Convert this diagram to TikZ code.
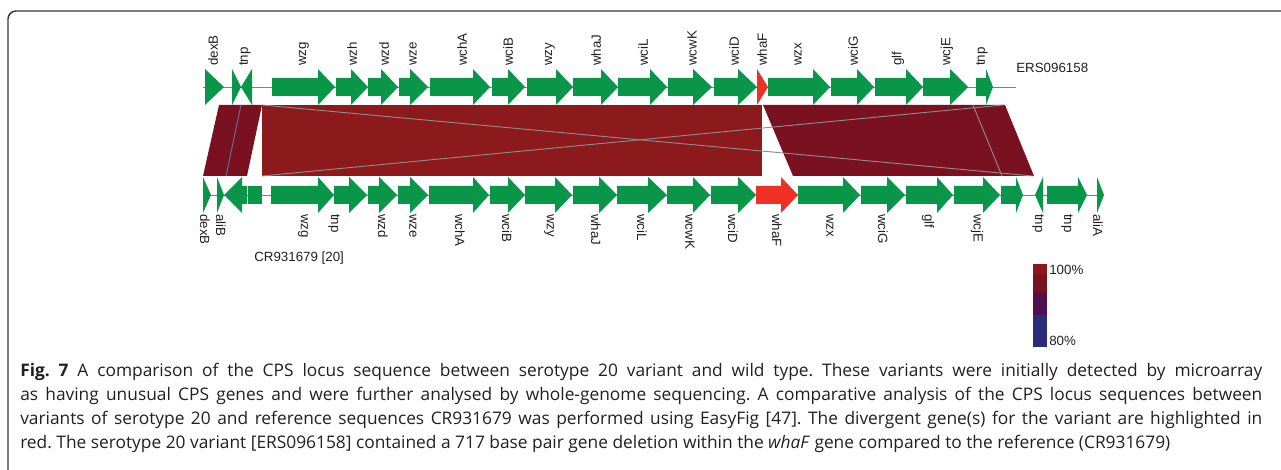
\documentclass[tikz,border=0pt]{standalone}
\usepackage{fontspec}
\setmainfont{Open Sans}
\newfontfamily\genefont{Liberation Sans}

\definecolor{genegreen}{HTML}{0A9648}
\definecolor{genered}{HTML}{EE3124}
\definecolor{hitred}{HTML}{8C191C}
\definecolor{hitdark}{HTML}{7A1120}
\definecolor{hitpurple}{HTML}{4F1050}
\definecolor{hitblue}{HTML}{2B2B7B}
\definecolor{inkgrey}{HTML}{231F20}

\begin{document}
\begin{tikzpicture}[x=0.75pt, y=-0.75pt,
                    lbl/.style = {font=\genefont\fontsize{10}{12}\selectfont, text=inkgrey, inner sep=0pt},
                    toplbl/.style = {lbl, rotate=90, anchor=west},
                    botlbl/.style = {lbl, rotate=-90, anchor=west}]
                    \useasboundingbox (0,0) rectangle (1281,470);
                    \draw[inkgrey!90, line width=1.1pt, rounded corners=6] (8,470) -- (8,11) -- (1300,11);

                    % backbones
                    \draw[gray, line width=0.5pt] (203,87) -- (1016,87);
                    \draw[gray, line width=0.5pt] (203,195) -- (1104,195);

                    % comparison bands
                    \fill[hitdark] (219,105) -- (262,105) -- (247,176) -- (203,176) -- cycle;
                    \draw[hitblue!70!white, line width=0.7pt] (241,105) -- (226,176);
                    \fill[hitred] (262,105) rectangle (762,176);
                    \fill[hitdark] (763,105) -- (1005,105) -- (1034,176) -- (793,176) -- cycle;
                    \draw[gray!90, line width=0.7pt] (262,105) -- (1033,176);
                    \draw[gray!90, line width=0.7pt] (262,176) -- (1003,105);
                    \draw[gray!90, line width=0.7pt] (973,105) -- (1002,176);

                    % ERS096158 genes
                    \foreach \a/\h/\b in {205/205/224, 232/232/241, 252/252/241, 272/318/335, 336/351/368,
                                          368/381/398, 399/410/428, 430/473/490, 492/508/525, 527/556/573,
                                          573/601/618, 618/650/667, 668/693/712, 714/738/757, 768/813/830,
                                          831/857/874, 875/906/923, 923/950/968, 976/986/993}
                        \fill[genegreen] (\a,78) -- (\h,78) -- (\h,69) -- (\b,87) -- (\h,105) -- (\h,96) -- (\a,96) -- cycle;
                    \fill[genered] (757,69) -- (768,87) -- (757,105) -- cycle;

                    % CR931679 genes
                    \foreach \a/\h/\b in {203/203/211, 217/217/224, 247/242/224, 271/318/334, 334/349/367,
                                          368/379/397, 398/410/428, 429/473/489, 490/508/525, 525/555/572,
                                          573/599/617, 617/648/667, 667/693/710, 711/738/756, 798/843/860,
                                          861/887/905, 906/937/953, 954/983/1000, 1001/1016/1023,
                                          1043/1043/1035, 1047/1078/1087, 1097/1097/1104}
                        \fill[genegreen] (\a,186) -- (\h,186) -- (\h,177) -- (\b,195) -- (\h,213) -- (\h,204) -- (\a,204) -- cycle;
                    \fill[genegreen] (248,186) rectangle (262,204);
                    \fill[genered] (756,186) -- (781,186) -- (781,177) -- (798,195) -- (781,213) -- (781,204) -- (756,204) -- cycle;

                    % gene names
                    \foreach \x/\t [count=\i] in {213/dexB, 245/tnp, 304/wzg, 352/wzh, 384/wzd, 413/wze,
                                                  462/wchA, 508/wciB, 550/wzy, 596/whaJ, 643/wciL, 692/wcwK,
                                                  734/wciD, 762/whaF, 798/wzx, 853/wciG, 898/glf, 947/wcjE, 982/tnp}
                        \node[toplbl] (up\i) at (\x,66) {\t};
                    \foreach \x/\t [count=\i] in {205/dexB, 221/aliB, 303/wzg, 334/tnp, 383/wzd, 413/wze,
                                                  460/wchA, 507/wciB, 549/wzy, 596/whaJ, 642/wciL, 690/wcwK,
                                                  733/wciD, 777/whaF, 830/wzx, 883/wciG, 928/glf, 977/wcjE,
                                                  1038/tnp, 1067/tnp, 1098/aliA}
                        \node[botlbl] (low\i) at (\x,214) {\t};

                    \node[lbl, anchor=west] (ers) at (1016,68) {ERS096158};
                    \node[lbl, anchor=west] (cr) at (254,258) {CR931679 [20]};

                    % identity scale
                    \fill[hitred] (1033,264) rectangle (1047,274);
                    \fill[hitdark] (1033,274) rectangle (1047,293);
                    \fill[hitpurple] (1033,293) rectangle (1047,315);
                    \fill[hitblue] (1033,315) rectangle (1047,347);
                    \node[lbl, anchor=west] (top) at (1049,270) {100\%};
                    \node[lbl, anchor=west] (bot) at (1049,341) {80\%};

                    \node[anchor=north west, inner sep=0pt, text width=931.5pt, align=justify, text=inkgrey,
                          font=\fontsize{13}{18}\selectfont\frenchspacing] (caption) at (20,363)
                        {\noindent\textbf{Fig. 7} A comparison of the CPS locus sequence between serotype 20 variant and wild type. These variants were initially detected by microarray\linebreak
                         as having unusual CPS genes and were further analysed by whole-genome sequencing. A comparative analysis of the CPS locus sequences between\linebreak
                         variants of serotype 20 and reference sequences CR931679 was performed using EasyFig [47]. The divergent gene(s) for the variant are highlighted in\linebreak
                         red. The serotype 20 variant [ERS096158] contained a 717 base pair gene deletion within the \textit{whaF} gene compared to the reference (CR931679)};
                \end{tikzpicture}
\end{document}
